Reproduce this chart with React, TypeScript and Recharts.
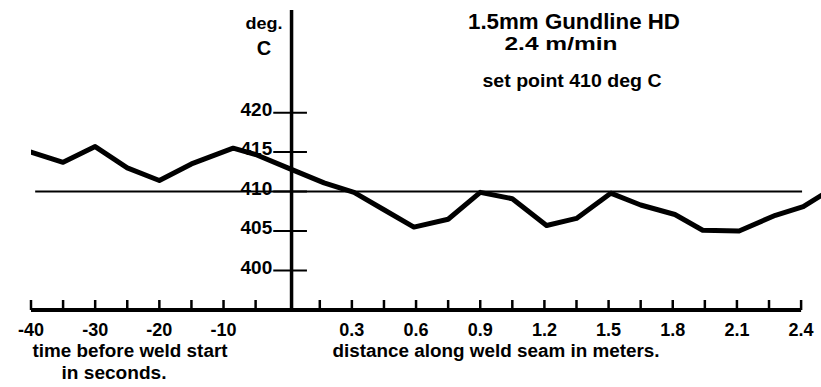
import React from 'react';
import { ComposedChart, Line, XAxis, YAxis, ReferenceLine } from 'recharts';

// ---- data ----
const secondsBefore = [-40, -35, -30, -25, -20, -15, -8.5, -5, 0];
const tempBefore = [415.0, 413.7, 415.7, 413.0, 411.4, 413.5, 415.5, 414.7, 413.0];

const metersAlong = [0.17, 0.31, 0.45, 0.59, 0.75, 0.9, 1.05, 1.21, 1.35, 1.51, 1.65, 1.81, 1.94, 2.11, 2.28, 2.41, 2.5];
const tempAlong = [411.1, 409.9, 407.7, 405.5, 406.5, 409.9, 409.1, 405.7, 406.6, 409.8, 408.3, 407.1, 405.1, 405.0, 407.0, 408.1, 409.6];

const setPoint = 410;
const yTickValues = [400, 405, 410, 415, 420];
const secondTicks = [-40, -35, -30, -25, -20, -15, -10, -5];
const secondLabels = ['-40', '', '-30', '', '-20', '', '-10', ''];
const meterTicks = [0.15, 0.3, 0.45, 0.6, 0.75, 0.9, 1.05, 1.2, 1.35, 1.5, 1.65, 1.8, 1.95, 2.1, 2.25, 2.4];
const meterLabels = ['', '0.3', '', '0.6', '', '0.9', '', '1.2', '', '1.5', '', '1.8', '', '2.1', '', '2.4'];

const titleLines = ['1.5mm Gundline HD', '2.4 m/min', 'set point 410 deg C'];
const yUnitLines = ['deg.', 'C'];
const xTitleLeft = ['time before weld start', 'in seconds.'];
const xTitleRight = 'distance along weld seam in meters.';

// ---- combined position scale: 5 s per unit on the left, 0.15 m per unit on the right ----
const SEC_PER_UNIT = 5;
const M_PER_UNIT = 0.15;
const posSec = (s: number) => Math.round((s / SEC_PER_UNIT) * 1000) / 1000;
const posM = (m: number) => Math.round((m / M_PER_UNIT) * 1000) / 1000;

const chartData = [
  ...secondsBefore.map((s, i) => ({ pos: posSec(s), temp: tempBefore[i] })),
  ...metersAlong.map((m, i) => ({ pos: posM(m), temp: tempAlong[i] })),
];

const tickPositions: number[] = [];
const tickLabelMap = new Map<number, string>();
secondTicks.forEach((s, i) => {
  const p = posSec(s);
  tickPositions.push(p);
  tickLabelMap.set(p, secondLabels[i]);
});
meterTicks.forEach((m, i) => {
  const p = posM(m);
  tickPositions.push(p);
  tickLabelMap.set(p, meterLabels[i]);
});

const FONT = "'Liberation Sans', Arial, sans-serif";
const W = 821;
const H = 387;
const Y_AXIS_POS = 0.12;
const X_MIN = posSec(secondsBefore[0]);
const X_MAX = 16.62;
const Y_MIN = 395;
const Y_MAX = 433;

const XTick = (props: any) => {
  const { x, y, payload } = props;
  const label = tickLabelMap.get(payload.value) ?? '';
  return (
    <g>
      <line x1={x} x2={x} y1={y - 10} y2={y} stroke="#000" strokeWidth={2.5} />
      {label ? (
        <text x={x} y={y + 26} textAnchor="middle" fontFamily={FONT} fontWeight="bold" fontSize={18} fill="#000">
          {label}
        </text>
      ) : null}
    </g>
  );
};

const YTickLabel = (value: number) => (props: any) => {
  const vb = props.viewBox || {};
  return (
    <text x={vb.x - 1} y={vb.y + 3} textAnchor="end" fontFamily={FONT} fontWeight="bold" fontSize={19} fill="#000">
      {String(value)}
    </text>
  );
};

export default function App() {
  return (
    <div style={{ position: 'absolute', left: 0, top: 0, width: W, height: H, background: '#fff' }}>
      <ComposedChart width={W} height={H} data={chartData} margin={{ top: 10, right: 0, bottom: 47, left: 31 }}>
        <XAxis
          dataKey="pos"
          type="number"
          domain={[X_MIN, X_MAX]}
          allowDataOverflow
          ticks={tickPositions}
          interval={0}
          axisLine={false}
          tickLine={false}
          tickSize={0}
          tickMargin={0}
          height={30}
          tick={<XTick />}
        />
        <YAxis type="number" domain={[Y_MIN, Y_MAX]} allowDataOverflow hide />
        {/* horizontal axis */}
        <ReferenceLine
          segment={[{ x: X_MIN, y: Y_MIN }, { x: posM(2.4), y: Y_MIN }]}
          stroke="#000"
          strokeWidth={4}
        />
        {/* vertical axis */}
        <ReferenceLine
          segment={[{ x: Y_AXIS_POS, y: Y_MIN }, { x: Y_AXIS_POS, y: Y_MAX }]}
          stroke="#000"
          strokeWidth={3.5}
        />
        {/* y ticks */}
        {yTickValues.map((v) => (
          <ReferenceLine
            key={v}
            segment={[{ x: -0.45, y: v }, { x: 0.6, y: v }]}
            stroke="#000"
            strokeWidth={2}
            label={YTickLabel(v)}
          />
        ))}
        {/* set point line */}
        <ReferenceLine
          segment={[{ x: -7.87, y: setPoint }, { x: 16.03, y: setPoint }]}
          stroke="#000"
          strokeWidth={2}
        />
        <Line
          dataKey="temp"
          type="linear"
          stroke="#000"
          strokeWidth={5}
          strokeLinejoin="round"
          strokeLinecap="round"
          dot={false}
          activeDot={false}
          isAnimationActive={false}
        />
      </ComposedChart>
      <svg width={W} height={H} style={{ position: 'absolute', left: 0, top: 0, pointerEvents: 'none' }}>
        <g fontFamily={FONT} fontWeight="bold" fill="#000" textAnchor="middle">
          <text x={574} y={29} fontSize={22} textLength={212} lengthAdjust="spacingAndGlyphs">{titleLines[0]}</text>
          <text x={561} y={49.5} fontSize={18} textLength={113} lengthAdjust="spacingAndGlyphs">{titleLines[1]}</text>
          <text x={572} y={87} fontSize={18} textLength={179} lengthAdjust="spacingAndGlyphs">{titleLines[2]}</text>
          <text x={264} y={29} fontSize={17} textLength={37} lengthAdjust="spacingAndGlyphs">{yUnitLines[0]}</text>
          <text x={264} y={55} fontSize={20}>{yUnitLines[1]}</text>
          <text x={130} y={357} fontSize={18} textLength={195} lengthAdjust="spacingAndGlyphs">{xTitleLeft[0]}</text>
          <text x={114} y={379} fontSize={18} textLength={105} lengthAdjust="spacingAndGlyphs">{xTitleLeft[1]}</text>
          <text x={496} y={357} fontSize={18} textLength={327} lengthAdjust="spacingAndGlyphs">{xTitleRight}</text>
        </g>
      </svg>
    </div>
  );
}
